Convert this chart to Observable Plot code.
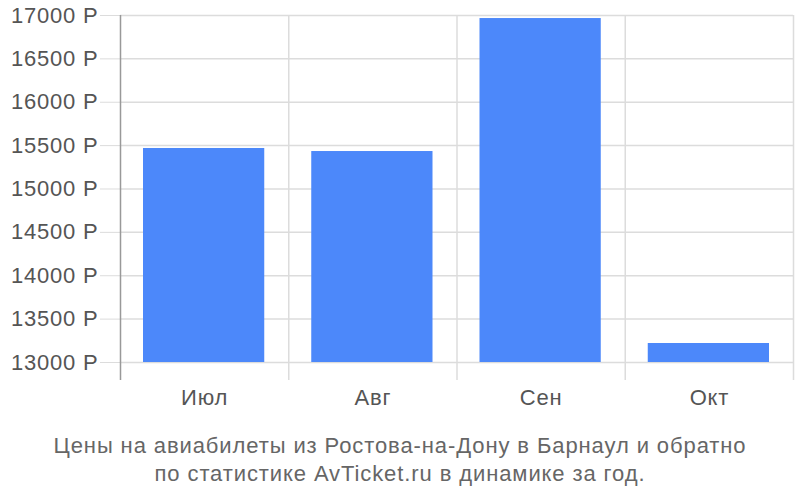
<!DOCTYPE html>
<html><head><meta charset="utf-8">
<script src="https://cdn.jsdelivr.net/npm/d3@7"></script>
<script src="https://cdn.jsdelivr.net/npm/@observablehq/plot@0.6"></script>
<style>
body{margin:0;background:#fff;font-family:"Liberation Sans",Arial,sans-serif}
#cap{width:800px;text-align:center;color:#666;font-size:22px;letter-spacing:0.9px;line-height:28px;margin-top:12px}
</style></head>
<body>
<div id="chart"></div>
<div id="cap">Цены на авиабилеты из Ростова-на-Дону в Барнаул и обратно<br>по статистике AvTicket.ru в динамике за год.</div>
<script>
const months = ["Июл", "Авг", "Сен", "Окт"];
const prices = [15467, 15432, 16965, 13219];
const yTicks = [13000, 13500, 14000, 14500, 15000, 15500, 16000, 16500, 17000];
const yBase = 13000;
const yMin = 12792.5;
const yMax = 17000;

const data = months.map((m, i) => ({i, m, p: prices[i]}));

const chart = Plot.plot({
  width: 800,
  height: 420,
  marginLeft: 120,
  marginRight: 7,
  marginTop: 15,
  marginBottom: 40,
  style: {fontFamily: "Liberation Sans, Arial, sans-serif", fontSize: "22px", letterSpacing: "0.8px", background: "#fff"},
  x: {domain: [0, months.length], axis: null},
  y: {domain: [yMin, yMax], axis: null},
  marks: [
    Plot.ruleY(yTicks, {stroke: "#dcdcdc", strokeWidth: 1.5}),
    Plot.ruleX(d3.range(1, months.length + 1), {stroke: "#dcdcdc", strokeWidth: 1.5}),
    Plot.axisY({ticks: yTicks, tickSize: 20, tickPadding: 2, tickFormat: d => d + " Р", label: null, stroke: "#dcdcdc", fill: "#555", fontSize: 22}),
    Plot.rectY(data, {x1: "i", x2: d => d.i + 1, y1: yBase, y2: "p", fill: "#4c88fa", insetLeft: 23, insetRight: 24}),
    Plot.ruleX([0], {stroke: "#999", strokeWidth: 1.5}),
    Plot.text(data, {x: d => d.i + 0.5, y: yMin, text: "m", dy: 17, fill: "#555", fontSize: 22})
  ]
});
document.getElementById("chart").appendChild(chart);
</script>
</body></html>
